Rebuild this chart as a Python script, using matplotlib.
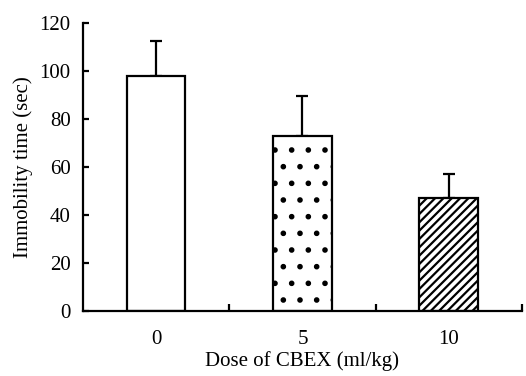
import matplotlib.pyplot as plt
import numpy as np

# Données
doses = ['0', '5', '10']
immobilite = [98, 73, 47]
erreur = [14.8, 16.7, 10]
motifs = ['', '.', '////']

plt.rcParams['font.family'] = ['Liberation Serif', 'DejaVu Serif']
plt.rcParams['hatch.linewidth'] = 1.6

fig = plt.figure(figsize=(5.26, 3.76), dpi=100)
ax = fig.add_axes([0.158, 0.173, 0.834, 0.765])

x = np.arange(len(doses))
barres = ax.bar(x, immobilite, width=0.4, color='white', edgecolor='black',
                linewidth=1.6, zorder=2)
for b, m in zip(barres, motifs):
    b.set_hatch(m)

# Barres d'erreur vers le haut seulement
ax.errorbar(x, immobilite, yerr=[np.zeros(len(erreur)), erreur], fmt='none',
            ecolor='black', elinewidth=1.6, capsize=4, capthick=1.6, zorder=1)

ax.set_xlim(-0.5, 2.5)
ax.set_ylim(0, 120)
ax.set_yticks(range(0, 121, 20))
ax.set_xticks(x)
ax.set_xticklabels(doses)
ax.set_xticks([0.5, 1.5, 2.5], minor=True)

ax.spines['top'].set_visible(False)
ax.spines['right'].set_visible(False)
ax.spines['left'].set_linewidth(1.6)
ax.spines['bottom'].set_linewidth(1.6)

ax.tick_params(axis='x', which='major', length=0, pad=14, labelsize=15)
ax.tick_params(axis='x', which='minor', direction='in', length=5, width=1.6)
ax.tick_params(axis='y', direction='in', length=4, width=1.6, pad=9, labelsize=15)

ax.set_xlabel('Dose of CBEX (ml/kg)', fontsize=15, labelpad=1)
ax.set_ylabel('Immobility time (sec)', fontsize=15, labelpad=5)

fig.savefig('out.png', dpi=100)
